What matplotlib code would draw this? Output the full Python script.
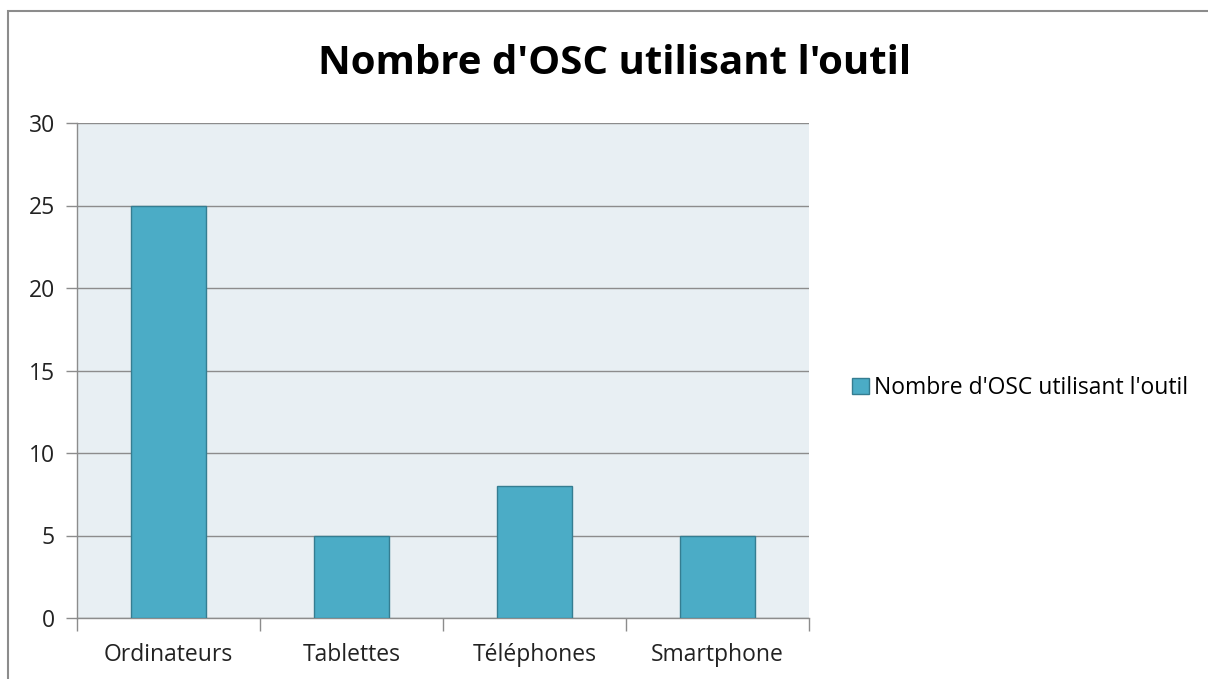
import matplotlib.pyplot as plt
from matplotlib.patches import Rectangle

categories = ["Ordinateurs", "Tablettes", "Téléphones", "Smartphone"]
values = [25, 5, 8, 5]
series_name = "Nombre d'OSC utilisant l'outil"

W, H = 1208, 679
fig = plt.figure(figsize=(W / 100, H / 100), dpi=100)
plt.rcParams['font.family'] = ['Open Sans', 'DejaVu Sans']

# outer chart frame (only top/left visible)
fig.patches.append(Rectangle((8 / W, -0.1), 1.2, (H - 11) / H + 0.1,
                             transform=fig.transFigure, fill=False,
                             edgecolor='#8c8c8c', lw=1.5))

# plot area in pixel coordinates
left, right, top, bottom = 77, 809, 123, 618
ax = fig.add_axes([left / W, 1 - bottom / H, (right - left) / W, (bottom - top) / H])
ax.set_facecolor('#e8eff3')

x = range(len(categories))
ax.bar(x, values, width=0.41, color='#4bacc6', edgecolor='#357d91', lw=1,
       label=series_name, zorder=3)

ax.set_xlim(-0.5, len(categories) - 0.5)
ax.set_ylim(0, 30)
ax.set_yticks(range(0, 31, 5))
ax.yaxis.grid(True, color='#8c8c8c', lw=1, zorder=0)
ax.set_axisbelow(True)

ax.set_xticks([i - 0.5 for i in range(len(categories) + 1)], minor=False)
ax.set_xticklabels([])
ax.set_xticks(list(x), minor=True)
ax.set_xticklabels(categories, minor=True)
ax.tick_params(axis='x', which='major', length=9, width=1, color='#8c8c8c')
ax.tick_params(axis='x', which='minor', length=0, pad=18, labelsize=16.5, labelcolor='#222222')
ax.tick_params(axis='y', length=8, width=1, color='#8c8c8c', pad=8,
               labelsize=16.5, labelcolor='#222222')

for s in ['top', 'right']:
    ax.spines[s].set_visible(False)
for s in ['left', 'bottom']:
    ax.spines[s].set_color('#8c8c8c')
    ax.spines[s].set_linewidth(1)

fig.text(615 / W, 1 - 64 / H, series_name, ha='center', va='center',
         fontsize=29, fontweight='bold', color='black')

fig.legend(loc='center left', bbox_to_anchor=(852 / W, 1 - 388 / H),
           frameon=False, fontsize=16.5, handlelength=0.75, handleheight=0.75,
           handletextpad=0.2, borderaxespad=0, borderpad=0)

fig.savefig('out.png', dpi=100)
